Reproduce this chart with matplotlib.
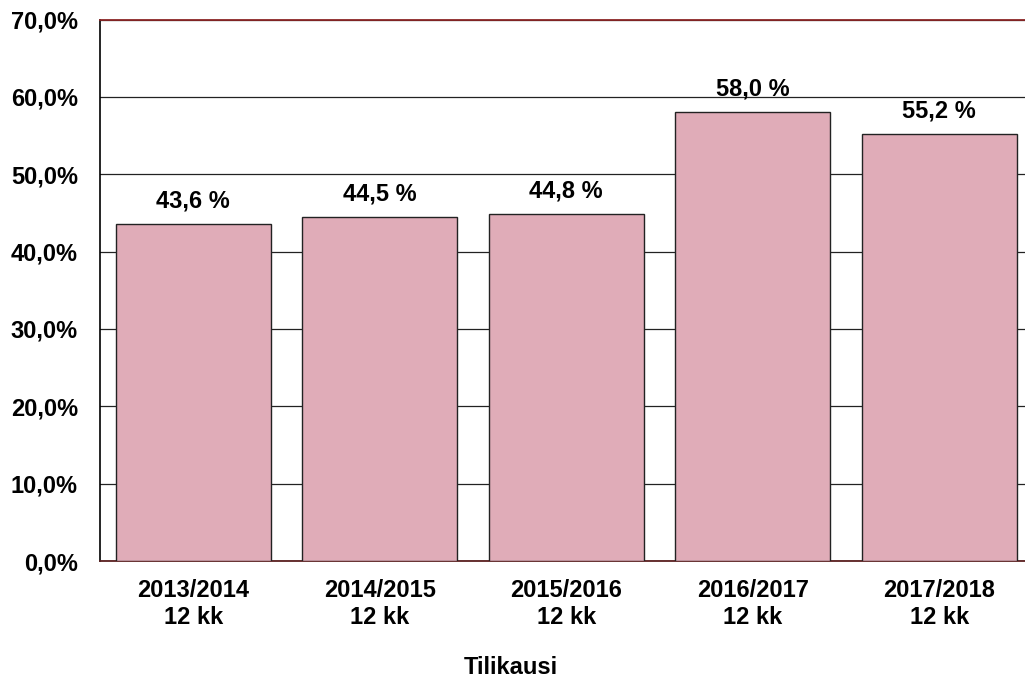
import matplotlib
matplotlib.use("Agg")
import matplotlib.pyplot as plt
from matplotlib.ticker import FuncFormatter

categories = ["2013/2014\n12 kk", "2014/2015\n12 kk", "2015/2016\n12 kk", "2016/2017\n12 kk", "2017/2018\n12 kk"]
values = [43.6, 44.5, 44.8, 58.0, 55.2]
yticks = [0, 10, 20, 30, 40, 50, 60, 70]
xlabel = "Tilikausi"

plt.rcParams['font.family'] = ['Liberation Sans', 'DejaVu Sans']
plt.rcParams['font.weight'] = 'bold'

fig = plt.figure(figsize=(10.25, 6.82), dpi=100)
ax = fig.add_axes([100/1025, 121/682, 932.5/1025, 541.5/682])

x = list(range(len(categories)))
ax.bar(x, values, width=0.83, color='#E0ACB8', edgecolor='#222222', linewidth=1.0, zorder=3)

ax.set_xlim(-0.5, len(categories) - 0.5)
ax.set_ylim(0, 70)
ax.set_yticks(yticks)
ax.yaxis.set_major_formatter(FuncFormatter(lambda v, p: f"{v:.1f}%".replace('.', ',')))
ax.set_xticks(x)
ax.set_xticklabels(categories)
ax.tick_params(axis='both', length=0, labelsize=17)
ax.tick_params(axis='y', pad=16)
ax.tick_params(axis='x', pad=13)
for lab in ax.get_xticklabels() + ax.get_yticklabels():
    lab.set_fontweight('bold')

ax.grid(axis='y', color='#222222', linewidth=0.9, zorder=0)
ax.set_axisbelow(True)

ax.spines['top'].set_color('#8B2525')
ax.spines['top'].set_linewidth(1.3)
ax.spines['bottom'].set_color('#5A2020')
ax.spines['bottom'].set_linewidth(1.3)
ax.spines['left'].set_color('black')
ax.spines['left'].set_linewidth(1.2)
ax.spines['right'].set_visible(False)

for xi, v in zip(x, values):
    ax.annotate(f"{v:.1f} %".replace('.', ','), (xi, v), xytext=(0, 12),
                textcoords='offset points', ha='center', va='baseline',
                fontsize=17, fontweight='bold', zorder=4)

fig.text(511/1025, 1 - 667/682, xlabel, ha='center', va='center', fontsize=17, fontweight='bold')

fig.savefig("out.png", dpi=100)
